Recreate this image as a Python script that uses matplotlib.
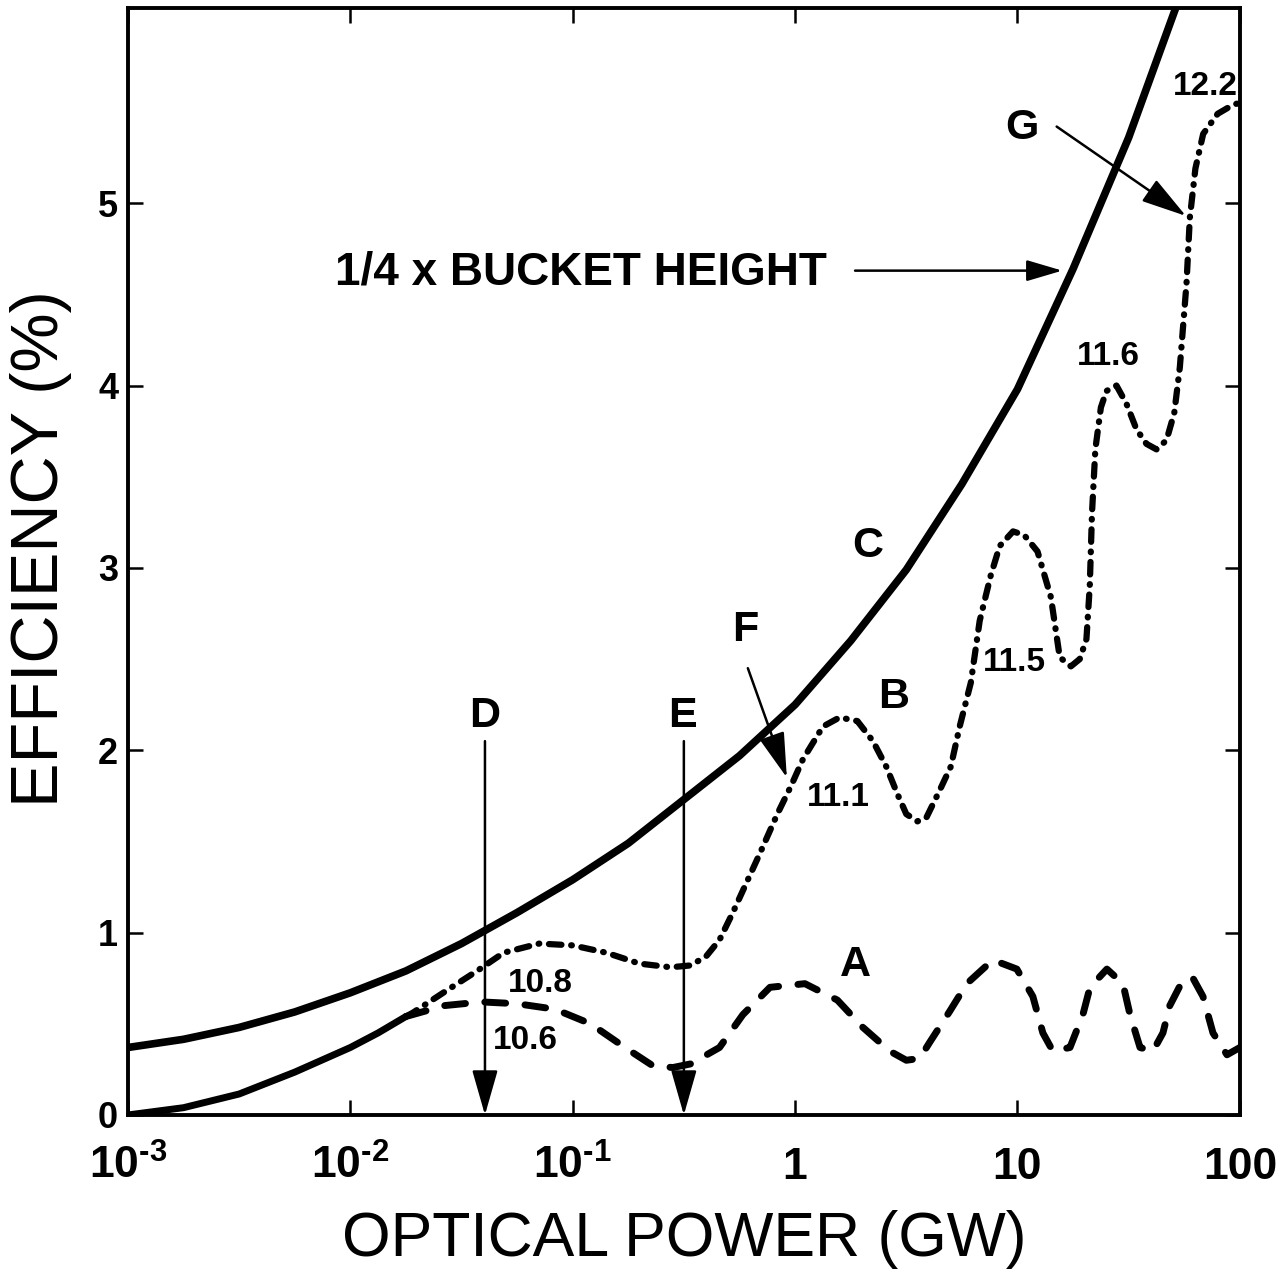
import numpy as np
from matplotlib import pyplot as plt
from matplotlib import rc, font_manager
from matplotlib.font_manager import FontProperties
from matplotlib.ticker import FixedLocator, NullLocator


def pick(*names):
    for n in names:
        try:
            font_manager.findfont(FontProperties(family=n), fallback_to_default=False)
            return n
        except ValueError:
            pass
    return 'DejaVu Sans'


SANS = pick('Liberation Sans', 'Arial')

rc('font', family=SANS)
rc('mathtext', fontset='custom', rm=SANS, it=SANS, bf=SANS + ':bold')
rc('lines', scale_dashes=False)

# data: log10(power / GW) and efficiency (%)
c_logp = [-3.0, -2.75, -2.5, -2.25, -2.0, -1.75, -1.5, -1.25, -1.0, -0.75, -0.5,
          -0.25, 0.0, 0.25, 0.5, 0.75, 1.0, 1.25, 1.5, 1.75]
c_eff = [0.37, 0.415, 0.48, 0.565, 0.67, 0.79, 0.94, 1.11, 1.29, 1.49, 1.73,
         1.97, 2.25, 2.6, 2.99, 3.46, 3.98, 4.64, 5.36, 6.2]

base_logp = [-3.0, -2.75, -2.5, -2.25, -2.0, -1.875, -1.75]
base_eff = [0.0, 0.04, 0.115, 0.235, 0.37, 0.45, 0.54]

b_logp = [-1.75, -1.72, -1.57, -1.43, -1.31, -1.15, -1.0, -0.85, -0.70, -0.56, -0.47,
          -0.40, -0.34, -0.28, -0.235, -0.16, -0.08, -0.02, 0.035, 0.125, 0.20, 0.28,
          0.35, 0.41, 0.46, 0.50, 0.55, 0.59, 0.65, 0.70, 0.74, 0.79, 0.83, 0.88, 0.92,
          0.98, 1.03, 1.09, 1.15, 1.19, 1.24, 1.28, 1.31, 1.325, 1.335, 1.35, 1.375,
          1.40, 1.445, 1.49, 1.535, 1.58, 1.625, 1.67, 1.705, 1.73, 1.76, 1.775, 1.80,
          1.835, 1.90, 1.97, 2.0]
b_eff = [0.54, 0.56, 0.68, 0.79, 0.89, 0.94, 0.93, 0.89, 0.83, 0.81, 0.82,
         0.87, 0.96, 1.11, 1.23, 1.43, 1.65, 1.80, 1.95, 2.13, 2.18, 2.16,
         2.05, 1.91, 1.76, 1.65, 1.61, 1.63, 1.78, 1.91, 2.13, 2.37, 2.71, 2.96, 3.12,
         3.20, 3.18, 3.09, 2.84, 2.51, 2.46, 2.50, 2.61, 2.9, 3.3, 3.65, 3.88,
         3.97, 4.0, 3.90, 3.76, 3.68, 3.65, 3.70, 3.85, 4.10, 4.56, 4.92, 5.19,
         5.38, 5.49, 5.54, 5.55]

a_logp = [-1.75, -1.575, -1.41, -1.25, -1.08, -0.92, -0.765, -0.64, -0.55, -0.47, -0.34,
          -0.235, -0.113, 0.044, 0.19, 0.305, 0.426, 0.50, 0.56, 0.606, 0.696, 0.772,
          0.889, 0.997, 1.069, 1.114, 1.159, 1.236, 1.294, 1.326, 1.402, 1.474, 1.506,
          1.551, 1.609, 1.654, 1.685, 1.744, 1.789, 1.834, 1.879, 1.942, 2.0]
a_eff = [0.54, 0.60, 0.62, 0.61, 0.58, 0.50, 0.37, 0.27, 0.26, 0.28, 0.37,
         0.55, 0.70, 0.72, 0.63, 0.48, 0.35, 0.30, 0.31, 0.40, 0.57, 0.72,
         0.85, 0.80, 0.65, 0.45, 0.35, 0.37, 0.55, 0.70, 0.80, 0.72, 0.55,
         0.37, 0.35, 0.45, 0.60, 0.74, 0.75, 0.65, 0.45, 0.33, 0.37]

xticks = [1e-3, 1e-2, 1e-1, 1, 10, 100]
xticklabels = ['$\\mathregular{10^{\u20103}}$', '$\\mathregular{10^{\u20102}}$',
               '$\\mathregular{10^{\u20101}}$', '1', '10', '100']
yticks = [0, 1, 2, 3, 4, 5]

fig = plt.figure(figsize=(12.81, 12.76), dpi=100)
ax = fig.add_axes([0.0999, 0.1262, 0.868, 0.8675])
ax.set_xscale('log')
ax.set_xlim(1e-3, 100)
ax.set_ylim(0, 6.07)

ax.plot(10 ** np.array(c_logp), c_eff, 'k-', lw=5.5, solid_capstyle='round',
        solid_joinstyle='round')
ax.plot(10 ** np.array(base_logp), base_eff, 'k-', lw=5, solid_capstyle='round',
        solid_joinstyle='round')
ax.plot(10 ** np.array(b_logp), b_eff, color='k', lw=4.5,
        dashes=(9, 7, 0.5, 7), dash_capstyle='round')
ax.plot(10 ** np.array(a_logp), a_eff, color='k', lw=5,
        dashes=(15, 14), dash_capstyle='round')

for s in ax.spines.values():
    s.set_linewidth(2.8)
ax.xaxis.set_major_locator(FixedLocator(xticks))
ax.xaxis.set_minor_locator(NullLocator())
ax.set_xticklabels(xticklabels)
ax.set_yticks(yticks)
ax.tick_params(direction='in', length=11, width=1.8, top=True, right=True)
ax.tick_params(axis='y', labelsize=26, pad=7)
ax.tick_params(axis='x', labelsize=32, pad=46)
for lbl in ax.get_yticklabels():
    lbl.set_fontweight('bold')
for lbl in ax.get_xticklabels():
    lbl.set_va('baseline')
    lbl.set_fontweight('bold')

ax.set_xlabel('OPTICAL POWER (GW)', fontsize=45, labelpad=16)
ax.set_ylabel('EFFICIENCY (%)', fontsize=48)
ax.yaxis.set_label_coords(-0.05, 0.512)

letter = dict(fontsize=31, fontweight='bold', ha='center', va='center')
num = dict(fontsize=24, fontweight='bold', ha='center', va='center')
ax.text(2.12, 3.12, 'C', **letter)
ax.text(2.76, 2.29, 'B', **letter)
ax.text(1.86, 0.82, 'A', **letter)
ax.text(0.0403, 2.19, 'D', **letter)
ax.text(0.313, 2.19, 'E', **letter)
ax.text(0.594, 2.66, 'F', **letter)
ax.text(10.5, 5.41, 'G', **letter)
ax.text(0.0713, 0.72, '10.8', **num)
ax.text(0.061, 0.41, '10.6', **num)
ax.text(1.556, 1.74, '11.1', **num)
ax.text(9.73, 2.48, '11.5', **num)
ax.text(25.5, 4.16, '11.6', **num)
ax.text(69.7, 5.64, '12.2', **num)
ax.text(0.00853, 4.62, '1/4 x BUCKET HEIGHT', fontsize=33, fontweight='bold',
        ha='left', va='center')

big = dict(arrowstyle='-|>,head_length=28,head_width=8', lw=1.8, color='k',
           shrinkA=0, shrinkB=0, mutation_scale=1)
ax.annotate('', xy=(0.0403, 0.0), xytext=(0.0403, 2.05), arrowprops=big)
ax.annotate('', xy=(0.316, 0.0), xytext=(0.316, 2.05), arrowprops=big)
ax.annotate('', xy=(0.918, 1.85), xytext=(0.613, 2.45), arrowprops=big)
ax.annotate('', xy=(57.2, 4.93), xytext=(15.0, 5.42), arrowprops=big)
ax.annotate('', xy=(15.9, 4.63), xytext=(1.86, 4.63),
            arrowprops=dict(big, arrowstyle='-|>,head_length=22,head_width=6.5'))

fig.savefig('out.png', dpi=100)
